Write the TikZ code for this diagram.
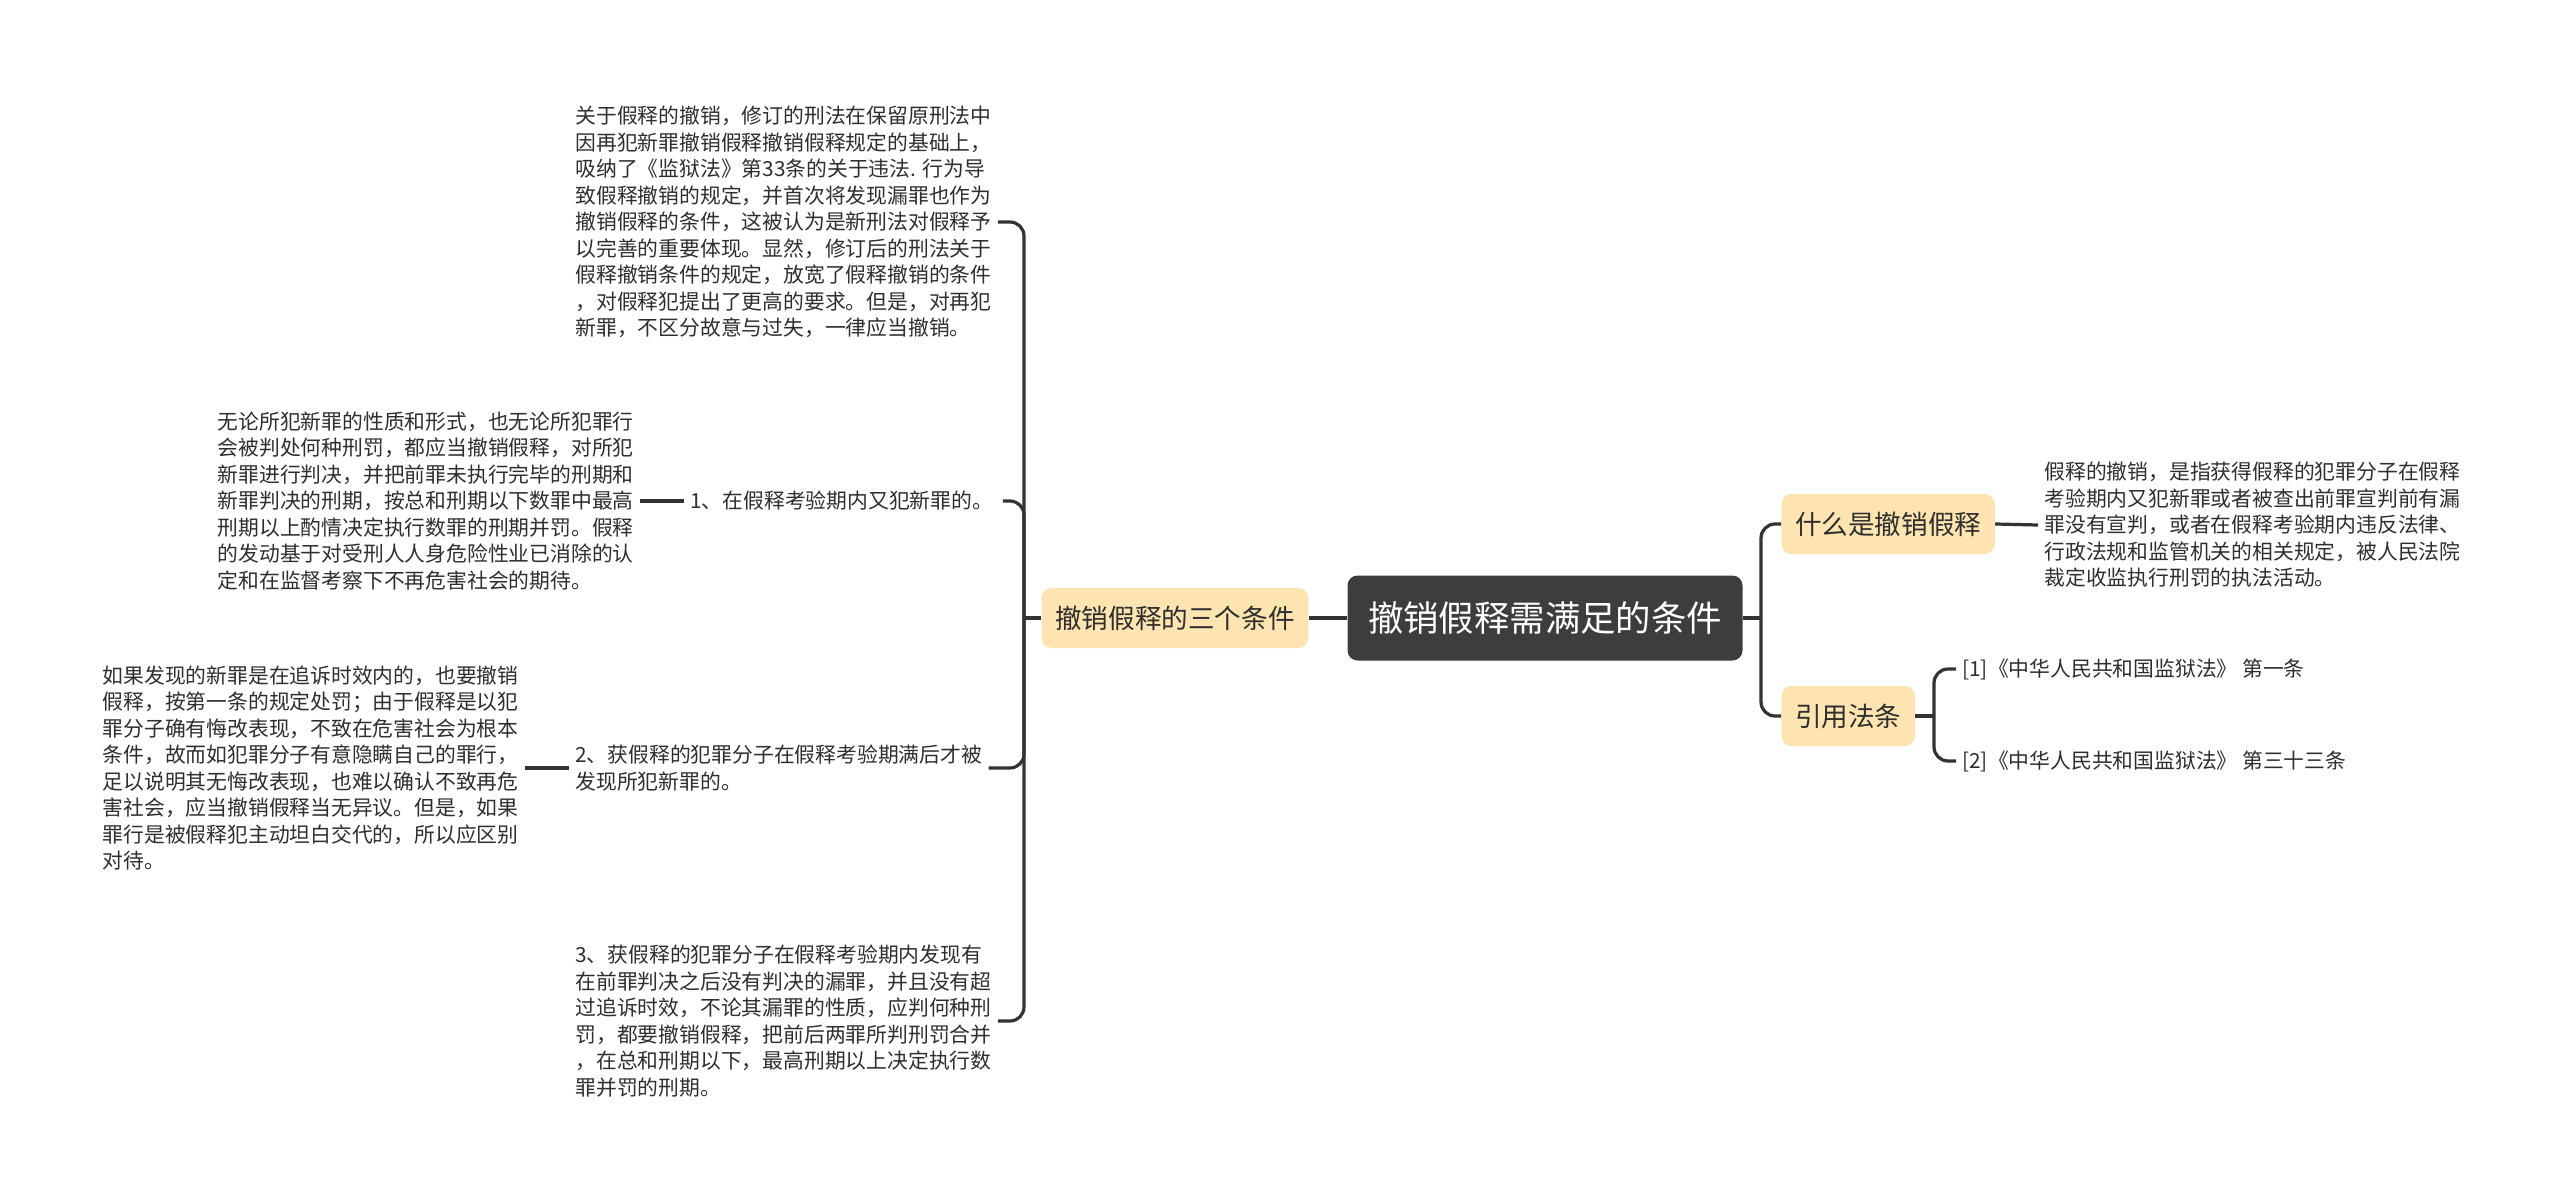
\documentclass[tikz,border=0pt]{standalone}
\usepackage{fontspec}
\setmainfont{Noto Sans CJK SC}
\usetikzlibrary{positioning}
\definecolor{rootgray}{HTML}{3D3D3D}
\definecolor{subyellow}{HTML}{FDE4B0}
\definecolor{linegray}{HTML}{333333}
\definecolor{leaftext}{HTML}{2E2E2E}
\tikzstyle{root} = [fill=rootgray, text=white, rounded corners=5pt, minimum width=197.5pt, minimum height=42.5pt, font=\fontsize{17.7}{21}\selectfont]
\tikzstyle{topic} = [fill=subyellow, text=leaftext, rounded corners=5pt, minimum height=30pt, inner xsep=6.8pt, font=\fontsize{13.3}{16}\selectfont]
\tikzstyle{leaf} = [align=left, inner xsep=3pt, inner ysep=2pt, text=leaftext, font=\fontsize{10.4}{13.25}\selectfont]
\tikzstyle{link} = [draw=linegray, line width=1.6pt]
\tikzstyle{brace} = [link, rounded corners=7pt]

\begin{document}
\begin{tikzpicture}[x=0.5pt, y=-0.5pt]
    \fill[white] (0,0) rectangle (2560,1199);
    \useasboundingbox (0,0) rectangle (2560,1199);

    % Centre and main topics
    \node[root] (root) at (1545,618) {撤销假释需满足的条件};
    \node[topic] (cond) at (1175,618) {撤销假释的三个条件};
    \node[topic, anchor=west] (what) at (1781,524) {什么是撤销假释};
    \node[topic, anchor=west] (refs) at (1781,716) {引用法条};

    % Left side (three conditions)
    \node[leaf, anchor=west] (c0) at (569,222) {关于假释的撤销，修订的刑法在保留原刑法中\\因再犯新罪撤销假释撤销假释规定的基础上，\\吸纳了《监狱法》第33条的关于违法. 行为导\\致假释撤销的规定，并首次将发现漏罪也作为\\撤销假释的条件，这被认为是新刑法对假释予\\以完善的重要体现。显然，修订后的刑法关于\\假释撤销条件的规定，放宽了假释撤销的条件\\，对假释犯提出了更高的要求。但是，对再犯\\新罪，不区分故意与过失，一律应当撤销。};
    \node[leaf, anchor=west, text width=153pt] (c1) at (684,501) {1、在假释考验期内又犯新罪的。};
    \node[leaf, anchor=west] (c2) at (569,768) {2、获假释的犯罪分子在假释考验期满后才被\\发现所犯新罪的。};
    \node[leaf, anchor=west] (c3) at (569,1021) {3、获假释的犯罪分子在假释考验期内发现有\\在前罪判决之后没有判决的漏罪，并且没有超\\过追诉时效，不论其漏罪的性质，应判何种刑\\罚，都要撤销假释，把前后两罪所判刑罚合并\\，在总和刑期以下，最高刑期以上决定执行数\\罪并罚的刑期。};
    \node[leaf, left=22pt of c1] (d1) {无论所犯新罪的性质和形式，也无论所犯罪行\\会被判处何种刑罚，都应当撤销假释，对所犯\\新罪进行判决，并把前罪未执行完毕的刑期和\\新罪判决的刑期，按总和刑期以下数罪中最高\\刑期以上酌情决定执行数罪的刑期并罚。假释\\的发动基于对受刑人人身危险性业已消除的认\\定和在监督考察下不再危害社会的期待。};
    \node[leaf, left=22pt of c2] (d2) {如果发现的新罪是在追诉时效内的，也要撤销\\假释，按第一条的规定处罚；由于假释是以犯\\罪分子确有悔改表现，不致在危害社会为根本\\条件，故而如犯罪分子有意隐瞒自己的罪行，\\足以说明其无悔改表现，也难以确认不致再危\\害社会，应当撤销假释当无异议。但是，如果\\罪行是被假释犯主动坦白交代的，所以应区别\\对待。};

    % Right side
    \node[leaf, anchor=west] (w1) at (2038,525) {假释的撤销，是指获得假释的犯罪分子在假释\\考验期内又犯新罪或者被查出前罪宣判前有漏\\罪没有宣判，或者在假释考验期内违反法律、\\行政法规和监管机关的相关规定，被人民法院\\裁定收监执行刑罚的执法活动。};
    \node[leaf, anchor=west] (s1) at (1956,669) {[1]《中华人民共和国监狱法》 第一条};
    \node[leaf, anchor=west] (s2) at (1956,761) {[2]《中华人民共和国监狱法》 第三十三条};

    % Connectors
    \coordinate (lt) at (1024,618);
    \coordinate (rt) at (1761,618);
    \coordinate (ft) at (1934,716);
    \draw[link] (root.west) -- (cond.east);
    \draw[link] (cond.west) -- (lt);
    \foreach \n in {c0,c1,c2,c3}
        \draw[brace] (lt) |- (\n.east);
    \draw[link] (c1.west) -- (d1.east);
    \draw[link] (c2.west) -- (d2.east);
    \draw[link] (root.east) -- (rt);
    \foreach \n in {what,refs}
        \draw[brace] (rt) |- (\n.west);
    \draw[link] (what.east) -- (w1.west);
    \draw[link] (refs.east) -- (ft);
    \foreach \n in {s1,s2}
        \draw[brace] (ft) |- (\n.west);
\end{tikzpicture}
\end{document}
